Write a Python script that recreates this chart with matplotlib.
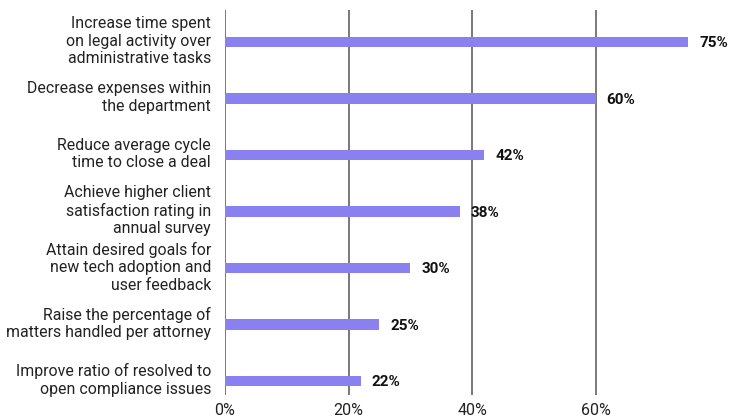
import matplotlib
matplotlib.use("Agg")
import matplotlib.pyplot as plt
from matplotlib.transforms import ScaledTranslation

#-----------------data----------------
labels = [
    "Increase time spent\non legal activity over\nadministrative tasks",
    "Decrease expenses within\nthe department",
    "Reduce average cycle\ntime to close a deal",
    "Achieve higher client\nsatisfaction rating in\nannual survey",
    "Attain desired goals for\nnew tech adoption and\nuser feedback",
    "Raise the percentage of\nmatters handled per attorney",
    "Improve ratio of resolved to\nopen compliance issues",
]
values = [75, 60, 42, 38, 30, 25, 22]
ticks = [0, 20, 40, 60]
tick_labels = ["0%", "20%", "40%", "60%"]
#-------------------------------------

plt.rcParams['font.family'] = ['Roboto', 'DejaVu Sans']

fig = plt.figure(figsize=(7.32, 4.18), dpi=100)
ax = fig.add_axes([225/732, 1 - 395/418, 494/732, 385/418])

pos = list(range(len(values)))
bars = ax.barh(pos, values, height=0.18, color='#8a80ef', zorder=3)

for y, v in zip(pos, values):
    ax.annotate(f"{v}%", (v, y), xytext=(8, -1), textcoords='offset points',
                va='center', ha='left', fontsize=11, fontweight='bold', color='#111111')

ax.set_xlim(0, 80)
ax.set_ylim(6.248, -0.566)
ax.set_xticks(ticks)
ax.set_xticklabels(tick_labels, fontsize=11.5, color='#222222')
ax.set_yticks(pos)
ax.set_yticklabels(labels, fontsize=11.4, color='#222222', linespacing=1.2)
ax.tick_params(length=0, pad=10)
ax.tick_params(axis='x', pad=6)

# nudge the category labels up a bit so the text block sits on the bar
shift = ScaledTranslation(0, 3.5/100, fig.dpi_scale_trans)
for lab in ax.get_yticklabels():
    lab.set_transform(lab.get_transform() + shift)

for t in ticks:
    ax.axvline(t, color='#555555', lw=1.1, zorder=1)

for s in ax.spines.values():
    s.set_visible(False)

fig.savefig("out.png", dpi=100)
